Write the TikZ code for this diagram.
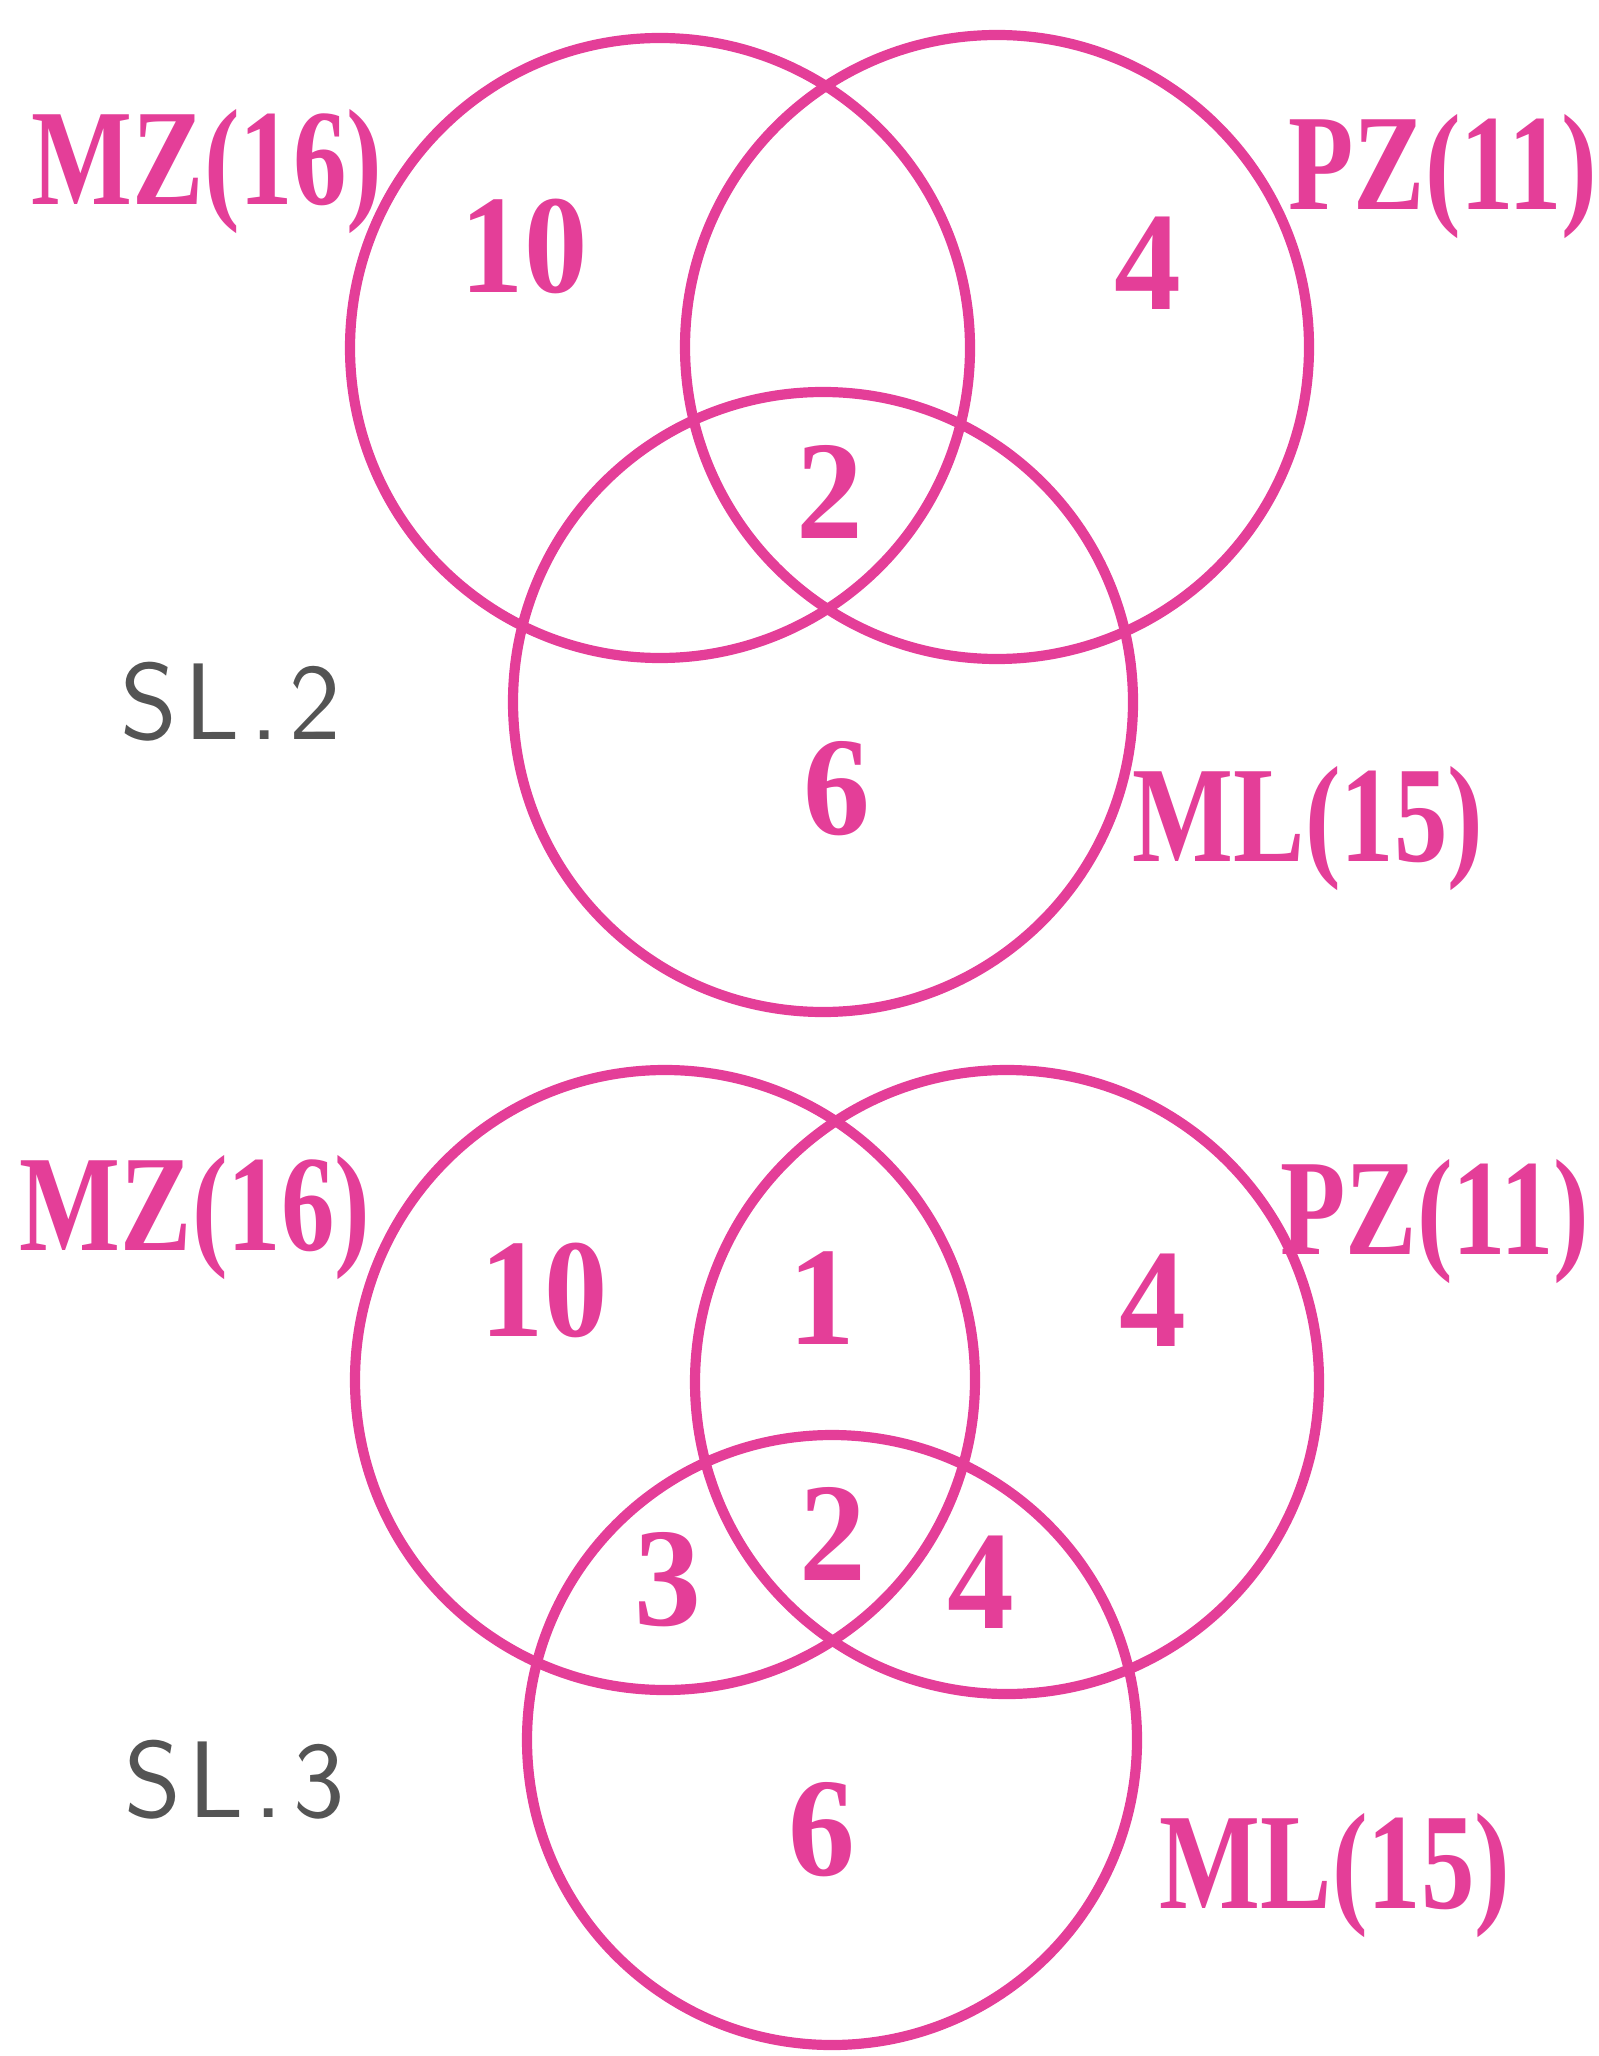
\documentclass[tikz,border=0pt]{standalone}
\usepackage{fontspec}
\usepackage{tikz}
\newfontfamily\vennfont{Liberation Serif}
\definecolor{vennpink}{RGB}{228,62,152}
\definecolor{pencil}{RGB}{84,84,84}
\newcommand{\slim}[2]{\scalebox{#1}[1]{#2}}
\tikzset{
  vennline/.style={draw=vennpink,line width=2.9pt},
  setname/.style={text=vennpink,inner sep=0pt,font=\vennfont\bfseries\fontsize{39}{42}\selectfont},
  numlabel/.style={text=vennpink,inner sep=0pt,font=\vennfont\bfseries\fontsize{40}{44}\selectfont},
  sllabel/.style={text=pencil,inner sep=0pt,font=\fontsize{31}{34}\selectfont\sffamily},
}

\begin{document}
\begin{tikzpicture}
  \useasboundingbox (0,0) rectangle (15.98,-20.56);
  % top: SL.2
  \begin{scope}
    \draw[vennline] (6.60,-3.48) circle (3.1);
    \draw[vennline] (9.97,-3.47) circle (3.12);
    \draw[vennline] (8.23,-7.02) circle (3.1);
    \node[setname] (mzA) at (2.07,-1.72) {\slim{0.78}{MZ(16)}};
    \node[setname] (pzA) at (14.43,-1.77) {\slim{0.78}{PZ(11)}};
    \node[setname] (mlA) at (13.08,-8.29) {\slim{0.78}{ML(15)}};
    \node[numlabel] (mzonlyA) at (5.24,-2.46) {\slim{0.9}{10}};
    \node[numlabel] (pzonlyA) at (11.48,-2.63) {\slim{0.95}{4}};
    \node[numlabel] (allA) at (8.30,-4.92) {\slim{0.95}{2}};
    \node[numlabel] (mlonlyA) at (8.37,-7.89) {\slim{0.95}{6}};
    \node[sllabel] (slA) at (2.31,-7.02) {S\kern2pt L\kern3pt.\kern3pt2};
  \end{scope}
  % bottom: SL.3
  \begin{scope}
    \draw[vennline] (6.65,-13.80) circle (3.1);
    \draw[vennline] (10.07,-13.82) circle (3.12);
    \draw[vennline] (8.32,-17.40) circle (3.05);
    \node[setname] (mzB) at (1.95,-12.18) {\slim{0.78}{MZ(16)}};
    \node[setname] (pzB) at (14.35,-12.22) {\slim{0.78}{PZ(11)}};
    \node[setname] (mlB) at (13.35,-18.76) {\slim{0.78}{ML(15)}};
    \node[numlabel] (mzonlyB) at (5.44,-12.90) {\slim{0.9}{10}};
    \node[numlabel] (mzpzB) at (8.22,-12.98) {\slim{0.95}{1}};
    \node[numlabel] (pzonlyB) at (11.53,-13.00) {\slim{0.95}{4}};
    \node[numlabel] (mzmlB) at (6.68,-15.80) {\slim{0.95}{3}};
    \node[numlabel] (allB) at (8.33,-15.34) {\slim{0.95}{2}};
    \node[numlabel] (pzmlB) at (9.81,-15.82) {\slim{0.95}{4}};
    \node[numlabel] (mlonlyB) at (8.22,-18.30) {\slim{0.95}{6}};
    \node[sllabel] (slB) at (2.35,-17.80) {S\kern2pt L\kern3pt.\kern3pt3};
  \end{scope}
\end{tikzpicture}
\end{document}
